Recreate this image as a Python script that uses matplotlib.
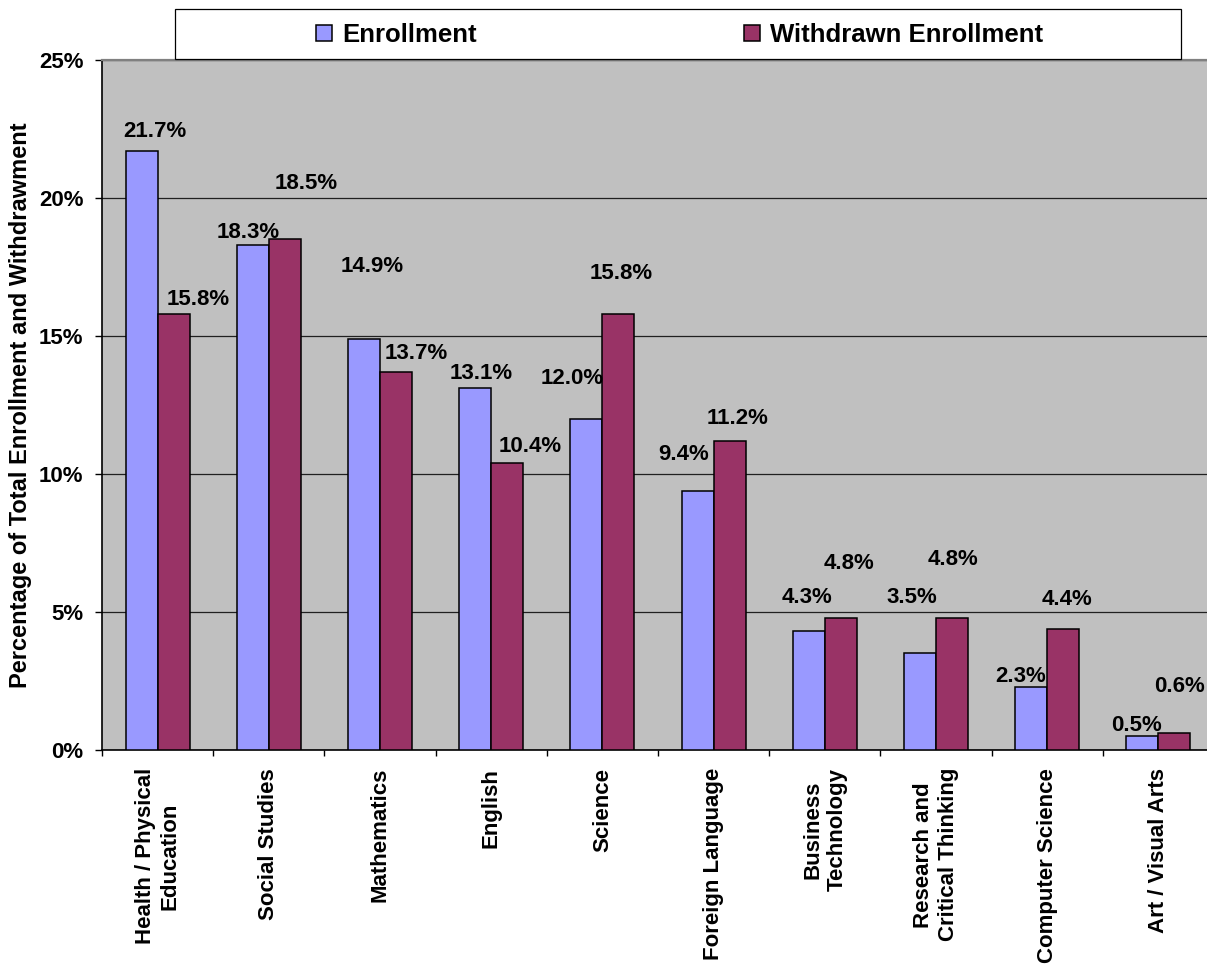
import matplotlib
matplotlib.use("Agg")
import matplotlib.pyplot as plt
from matplotlib.patches import Rectangle, Patch
from matplotlib.ticker import FixedLocator, FuncFormatter
import numpy as np

plt.rcParams['font.family'] = ['Liberation Sans', 'DejaVu Sans']
plt.rcParams['font.weight'] = 'bold'

# data
subjects = ["Health / Physical\nEducation", "Social Studies", "Mathematics", "English",
            "Science", "Foreign Language", "Business\nTechnology",
            "Research and\nCritical Thinking", "Computer Science", "Art / Visual Arts"]
enrollment = [21.7, 18.3, 14.9, 13.1, 12.0, 9.4, 4.3, 3.5, 2.3, 0.5]
withdrawn = [15.8, 18.5, 13.7, 10.4, 15.8, 11.2, 4.8, 4.8, 4.4, 0.6]

# label nudges (pixels) to mimic the original placement
enr_dx = [13.5, -5, 8.5, 6, -14, -14, -2, -8.5, -11, -6]
enr_dy = [20, 12, 72, 14.5, 40, 36, 34, 56, 10, 11]
wd_dx = [24.5, 21, 20, 23, 3, 8, 8, 0.5, 4, 5]
wd_dy = [14, 56, 18, 16, 40, 22, 54, 58, 29, 47]

W, H = 1207, 964
fig = plt.figure(figsize=(W / 100, H / 100), dpi=100)
ax = fig.add_axes([102 / W, 1 - 750 / H, 1112 / W, 690 / H])
ax.set_facecolor('#C0C0C0')

x = np.arange(len(subjects))
bw = 0.288
ax.bar(x - bw / 2, enrollment, bw, color='#9999FF', edgecolor='black', linewidth=1.1, zorder=3)
ax.bar(x + bw / 2, withdrawn, bw, color='#993366', edgecolor='black', linewidth=1.1, zorder=3)

for i in range(len(subjects)):
    ax.annotate(f"{enrollment[i]:.1f}%", (x[i] - bw / 2, enrollment[i]),
                textcoords='offset pixels', xytext=(enr_dx[i], enr_dy[i]),
                ha='center', va='center', fontsize=16, fontweight='bold', zorder=5)
    ax.annotate(f"{withdrawn[i]:.1f}%", (x[i] + bw / 2, withdrawn[i]),
                textcoords='offset pixels', xytext=(wd_dx[i], wd_dy[i]),
                ha='center', va='center', fontsize=16, fontweight='bold', zorder=5)

ax.set_xlim(-0.5, len(subjects) - 0.5)
ax.set_ylim(0, 25)
ax.set_yticks([0, 5, 10, 15, 20, 25])
ax.yaxis.set_major_formatter(FuncFormatter(lambda v, p: f"{v:.0f}%"))
ax.tick_params(axis='y', direction='out', length=5, width=1, pad=8.5, labelsize=16)
ax.grid(axis='y', color='#202020', linewidth=0.9, zorder=1)

# ticks at category boundaries, labels at centres
ax.xaxis.set_major_locator(FixedLocator(np.arange(-0.5, len(subjects), 1.0)))
ax.xaxis.set_minor_locator(FixedLocator(x))
ax.set_xticklabels([], minor=False)
ax.set_xticklabels(subjects, minor=True, rotation=90, multialignment='center',
                   fontsize=16, fontweight='bold')
ax.tick_params(axis='x', which='major', direction='out', length=4.5, width=1)
ax.tick_params(axis='x', which='minor', length=0, pad=13)

ax.set_ylabel("Percentage of Total Enrollment and Withdrawment", fontsize=17, fontweight='bold')
ax.yaxis.set_label_coords(-0.063, 0.5)

for s in ['left', 'bottom']:
    ax.spines[s].set_color('black')
    ax.spines[s].set_linewidth(1.2)
ax.spines['top'].set_color('#808080')
ax.spines['top'].set_linewidth(1.6)
ax.spines['right'].set_visible(False)

# legend box across the top
fig.add_artist(Rectangle((175 / W, 1 - 59 / H), 1006 / W, 50 / H, transform=fig.transFigure,
                         facecolor='white', edgecolor='black', linewidth=0.9, zorder=4))
handles = [Patch(facecolor='#9999FF', edgecolor='black', linewidth=1.1),
           Patch(facecolor='#993366', edgecolor='black', linewidth=1.1)]
leg = fig.legend(handles, ["Enrollment", "Withdrawn Enrollment"], loc='center',
                 bbox_to_anchor=(679.5 / W, 1 - 35 / H), ncol=2, frameon=False,
                 prop={'size': 18.5, 'weight': 'bold'}, handlelength=0.62,
                 handleheight=0.58, handletextpad=0.39, columnspacing=10.4,
                 borderpad=0, borderaxespad=0)
leg.set_zorder(5)

fig.savefig("out.png", dpi=100)
